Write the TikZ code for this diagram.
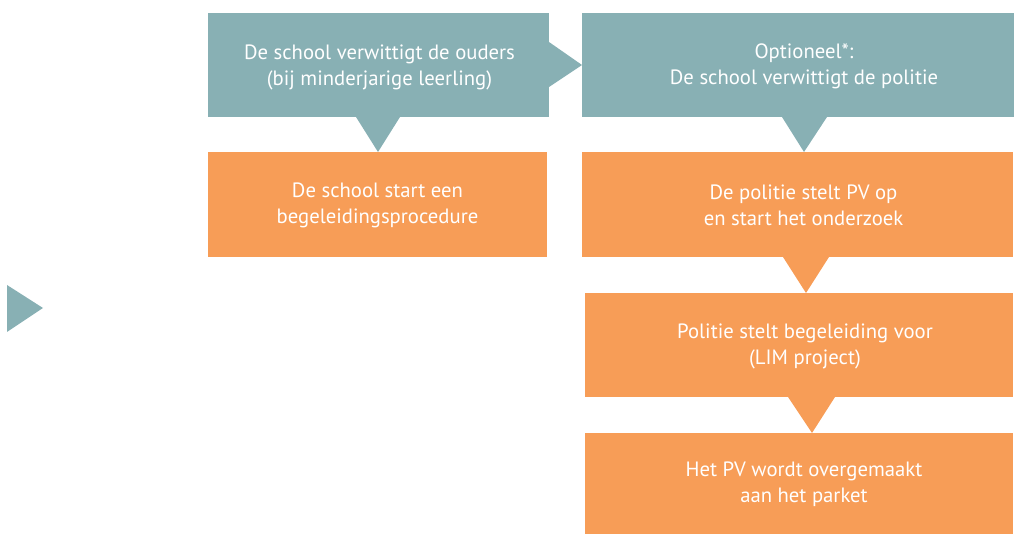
\documentclass[tikz,border=0pt]{standalone}
\usepackage{fontspec}
\setmainfont{PT Sans}
\usetikzlibrary{calc}
\definecolor{tealbox}{RGB}{136,176,180}
\definecolor{orangebox}{RGB}{247,157,87}
\tikzset{
  box/.style={anchor=north west, inner sep=0pt, outer sep=0pt},
  tealfill/.style={fill=tealbox, draw=none},
  orangefill/.style={fill=orangebox, draw=none},
  lbl/.style={text=white, align=center, font=\fontsize{20.7}{26}\selectfont, inner sep=0pt}
}
\begin{document}
\begin{tikzpicture}[x=1pt,y=-1pt]
\useasboundingbox (0,0) rectangle (1014,534);
% boxes
\node[box, tealfill, minimum width=341pt, minimum height=104pt] (t1) at (208,13) {};
\node[box, tealfill, minimum width=432pt, minimum height=104pt] (t2) at (582,13) {};
\node[box, orangefill, minimum width=339pt, minimum height=105pt] (oa) at (208,152) {};
\node[box, orangefill, minimum width=431pt, minimum height=105pt] (ob) at (582,152) {};
\node[box, orangefill, minimum width=428pt, minimum height=104pt] (oc) at (585,293) {};
\node[box, orangefill, minimum width=428pt, minimum height=101pt] (od) at (585,433) {};
% texts
\node[lbl] (t1l) at ($(t1.center)+(1,2)$) {De school verwittigt de ouders\\(bij minderjarige leerling)};
\node[lbl] (t2l) at ($(t2.center)+(6,1)$) {Optioneel*:\\De school verwittigt de politie};
\node[lbl] (oal) at ($(oa.center)+(0,1)$) {De school start een\\begeleidingsprocedure};
\node[lbl] (obl) at ($(ob.center)+(6,1)$) {De politie stelt PV op\\en start het onderzoek};
\node[lbl] (ocl) at ($(oc.center)+(6,1)$) {Politie stelt begeleiding voor\\(LIM project)};
\node[lbl] (odl) at ($(od.center)+(5,1)$) {Het PV wordt overgemaakt\\aan het parket};
% connector triangles
\coordinate (c1) at ($(t1.south west)+(170,0)$);
\fill[tealfill] ($(c1)+(-22,0)$) -- ($(c1)+(22,0)$) -- (c1 |- oa.north) -- cycle;
\coordinate (c2) at ($(t1.east)$);
\fill[tealfill] ($(c2)+(0,-23)$) -- ($(c2)+(0,22)$) -- (t2.west) -- cycle;
\coordinate (c3) at ($(t2.south west)+(222,0)$);
\fill[tealfill] ($(c3)+(-22,0)$) -- ($(c3)+(23,0)$) -- (c3 |- ob.north) -- cycle;
\coordinate (c4) at ($(ob.south west)+(224,0)$);
\fill[orangefill] ($(c4)+(-23,0)$) -- ($(c4)+(23,0)$) -- (c4 |- oc.north) -- cycle;
\coordinate (c5) at ($(oc.south west)+(227,0)$);
\fill[orangefill] ($(c5)+(-24,0)$) -- ($(c5)+(23,0)$) -- (c5 |- od.north) -- cycle;
% left triangle
\fill[tealfill] (7,285) -- (43,308) -- (7,332) -- cycle;
\end{tikzpicture}
\end{document}
